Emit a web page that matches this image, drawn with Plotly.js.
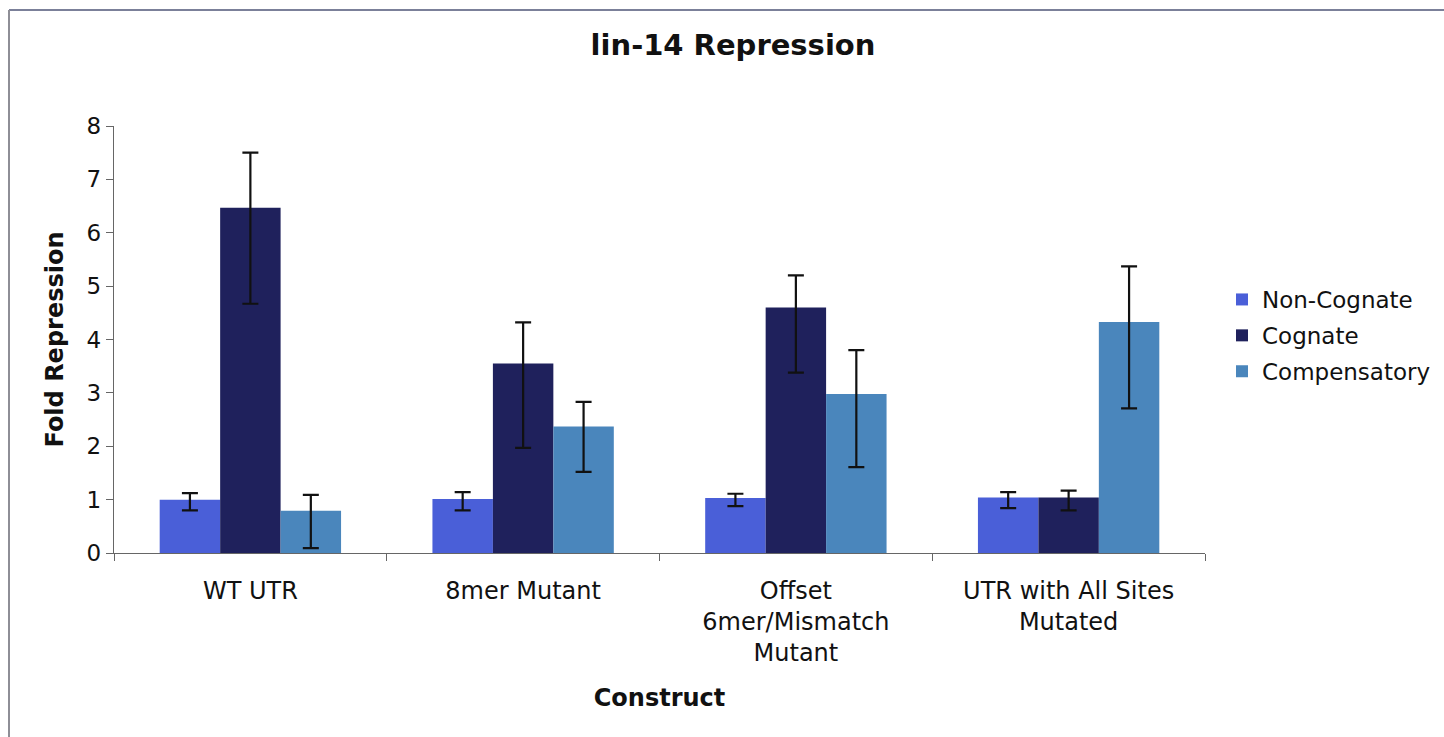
<!DOCTYPE html>
<html>
<head>
<meta charset="utf-8">
<script src="https://cdn.plot.ly/plotly-3.0.1.min.js"></script>
<style>
  html, body { margin: 0; padding: 0; background: #fff; }
  #chart { width: 1444px; height: 737px; }
</style>
</head>
<body>
<div id="chart"></div>
<script>
const categories = ["WT UTR", "8mer Mutant", "Offset<br>6mer/Mismatch<br>Mutant", "UTR with All Sites<br>Mutated"];
const seriesNames = ["Non-Cognate", "Cognate", "Compensatory"];

const nonCognate = [1.00, 1.01, 1.03, 1.04];
const nonCognateErrPlus = [0.12, 0.13, 0.08, 0.10];
const nonCognateErrMinus = [0.20, 0.21, 0.15, 0.20];

const cognate = [6.47, 3.55, 4.60, 1.04];
const cognateErrPlus = [1.03, 0.77, 0.60, 0.13];
const cognateErrMinus = [1.80, 1.58, 1.22, 0.24];

const compensatory = [0.79, 2.37, 2.98, 4.33];
const compensatoryErrPlus = [0.30, 0.46, 0.82, 1.04];
const compensatoryErrMinus = [0.70, 0.85, 1.37, 1.62];

const colors = ["#4a5fd8", "#1f215c", "#4a86bc"];
const FONT = "DejaVu Sans, Verdana, sans-serif";

function errBar(plus, minus) {
  return { type: "data", symmetric: false, array: plus, arrayminus: minus,
           color: "#111", thickness: 2.2, width: 8, visible: true };
}

const traces = [
  { type: "bar", name: seriesNames[0], legendgroup: "a", x: categories, y: nonCognate,
    marker: { color: colors[0] }, error_y: errBar(nonCognateErrPlus, nonCognateErrMinus) },
  { type: "bar", name: seriesNames[1], legendgroup: "b", x: categories, y: cognate,
    marker: { color: colors[1] }, error_y: errBar(cognateErrPlus, cognateErrMinus) },
  { type: "bar", name: seriesNames[2], legendgroup: "c", x: categories, y: compensatory,
    marker: { color: colors[2] }, error_y: errBar(compensatoryErrPlus, compensatoryErrMinus) }
];

// plot area: x 114..1205, y 126..553
const L = 114, R = 1444 - 1205, T = 126, B = 737 - 553;
const pw = 1444 - L - R, ph = 737 - T - B;
const px = v => (v - L) / pw;
const py = v => (737 - B - v) / ph;

const layout = {
  width: 1444, height: 737,
  margin: { l: L, r: R, t: T, b: B, pad: 0, autoexpand: false },
  paper_bgcolor: "#ffffff", plot_bgcolor: "#ffffff",
  font: { family: FONT, color: "#111", size: 22 },
  barmode: "group", bargap: 0.335, bargroupgap: 0,
  title: { text: "<b>lin-14 Repression</b>", font: { family: FONT, size: 29, color: "#111" },
           x: 733 / 1444, xanchor: "center", y: 1 - 45 / 737, yanchor: "middle" },
  xaxis: {
    title: { text: "<b>Construct</b>", font: { family: FONT, size: 24, color: "#111" }, standoff: 22 },
    showline: true, linecolor: "#666", linewidth: 1.2,
    ticks: "outside", ticklen: 7, tickcolor: "#666", tickson: "boundaries",
    ticklabelstandoff: 16,
    tickfont: { family: FONT, size: 24, color: "#111" },
    showgrid: false, zeroline: false, fixedrange: true
  },
  yaxis: {
    title: { text: "<b>Fold Repression</b>", font: { family: FONT, size: 24, color: "#111" }, standoff: 16 },
    range: [0, 8], dtick: 1, tick0: 0,
    showline: true, linecolor: "#666", linewidth: 1.2,
    ticks: "outside", ticklen: 7, tickcolor: "#666",
    tickfont: { family: FONT, size: 23, color: "#111" },
    showgrid: false, zeroline: false, fixedrange: true
  },
  legend: {
    xref: "container", yref: "container",
    x: 1222 / 1444, xanchor: "left", y: 1 - 278 / 737, yanchor: "top",
    font: { family: FONT, size: 23, color: "#111" },
    bgcolor: "rgba(0,0,0,0)", borderwidth: 0, tracegroupgap: 3, itemwidth: 30
  },
  shapes: [
    { type: "line", xref: "paper", yref: "paper", x0: px(9), x1: px(1444), y0: py(10), y1: py(10),
      line: { color: "#7b8099", width: 2 } },
    { type: "line", xref: "paper", yref: "paper", x0: px(9), x1: px(9), y0: py(10), y1: py(737),
      line: { color: "#8e8e96", width: 2 } }
  ],
  showlegend: true
};

Plotly.newPlot("chart", traces, layout, { displayModeBar: false, staticPlot: true });
</script>
</body>
</html>
